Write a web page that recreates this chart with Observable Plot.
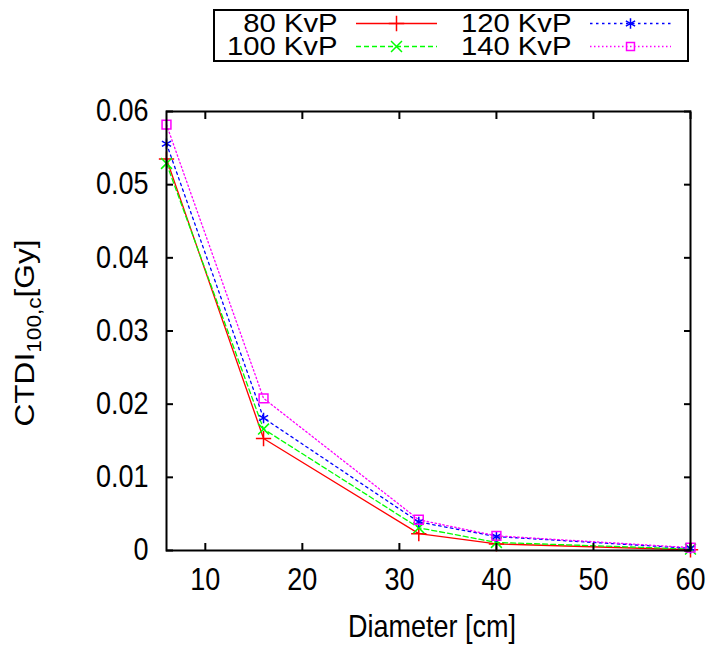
<!DOCTYPE html>
<html>
<head>
<meta charset="utf-8">
<script src="https://cdn.jsdelivr.net/npm/d3@7"></script>
<script src="https://cdn.jsdelivr.net/npm/@observablehq/plot@0.6"></script>
<style>
  html, body { margin: 0; padding: 0; background: #fff; }
  #wrap { position: relative; width: 713px; height: 646px; font-family: "Liberation Sans", Arial, sans-serif; color: #000; }
  #legend { position: absolute; left: 213px; top: 9px; width: 472px; height: 49px; border: 2px solid #000; background: #fff; }
  .lab { position: absolute; font-size: 25px; line-height: 21px; white-space: nowrap; transform: scaleX(1.17); transform-origin: right center; }
  .sw { position: absolute; }
  #ylab { position: absolute; left: 25px; top: 333px; transform: translate(-50%, -50%) rotate(-90deg) scale(1.13, 1); font-size: 28px; line-height: 28px; white-space: nowrap; }
  #ylab sub { font-size: 20px; vertical-align: -7px; line-height: 0; }
  #xlab { position: absolute; left: 432px; top: 627px; transform: translate(-50%, -50%) scale(1, 1.13); font-size: 27px; line-height: 27px; white-space: nowrap; }
</style>
</head>
<body>
<div id="wrap">
  <div id="chart"></div>
  <div id="legend"></div>
  <div id="ylab">CTDI<sub>100,c</sub>[Gy]</div>
  <div id="xlab">Diameter [cm]</div>
</div>
<script>
// ---- data ----
const diameters = [6, 16, 32, 40, 60];
const kvp80  = [0.0535, 0.0153, 0.0023, 0.0009, 0.0001];
const kvp100 = [0.0529, 0.0166, 0.0031, 0.0011, 0.0002];
const kvp120 = [0.0556, 0.0181, 0.0039, 0.0019, 0.0003];
const kvp140 = [0.0582, 0.0208, 0.0042, 0.0020, 0.0004];
const seriesNames = ["80 KvP", "100 KvP", "120 KvP", "140 KvP"];
const xTicks = [10, 20, 30, 40, 50, 60];
const yTicks = [0, 0.01, 0.02, 0.03, 0.04, 0.05, 0.06];

const seriesValues = [kvp80, kvp100, kvp120, kvp140];
const styles = [
  {color: "#ff0000", dash: null, symbol: "plus"},
  {color: "#00ff00", dash: "5,3", symbol: "times"},
  {color: "#0000ff", dash: "2.5,3.5", symbol: "asterisk"},
  {color: "#ff00ff", dash: "1.5,2.5", symbol: "square"}
];

const rows = [];
seriesNames.forEach((name, i) => {
  diameters.forEach((d, j) => rows.push({series: name, idx: i, x: d, y: seriesValues[i][j]}));
});

const marks = [];
seriesNames.forEach((name, i) => {
  const data = rows.filter(r => r.idx === i);
  marks.push(Plot.line(data, {x: "x", y: "y", stroke: styles[i].color, strokeWidth: 1.3, strokeDasharray: styles[i].dash}));
});
seriesNames.forEach((name, i) => {
  const data = rows.filter(r => r.idx === i);
  marks.push(Plot.dot(data, {x: "x", y: "y", stroke: styles[i].color, fill: "none", symbol: styles[i].symbol, r: 5, strokeWidth: 1.5}));
});

const plot = Plot.plot({
  width: 713,
  height: 646,
  marginLeft: 166,
  marginRight: 23,
  marginTop: 111,
  marginBottom: 96,
  style: {fontSize: "27px", fontFamily: "'Liberation Sans', Arial, sans-serif", color: "#000", background: "#fff"},
  x: {domain: [6, 60]},
  y: {domain: [0, 0.06]},
  marks: [
    ...marks,
    Plot.axisX({anchor: "bottom", ticks: xTicks, tickSize: -7, tickPadding: 25, strokeWidth: 2, label: null}),
    Plot.axisX({anchor: "top", ticks: xTicks, tickSize: -7, strokeWidth: 2, tickFormat: () => "", label: null}),
    Plot.axisY({anchor: "left", ticks: yTicks, tickSize: -7, tickPadding: 25, strokeWidth: 2, tickFormat: d => d === 0 ? "0" : d.toFixed(2), label: null}),
    Plot.axisY({anchor: "right", ticks: yTicks, tickSize: -7, strokeWidth: 2, tickFormat: () => "", label: null}),
    Plot.frame({stroke: "#000", strokeWidth: 2})
  ]
});
document.getElementById("chart").appendChild(plot);

// stretch tick labels vertically to match the reference's tall glyphs
plot.querySelectorAll("g[aria-label$='tick label'] text").forEach(t => {
  const tr = t.getAttribute("transform");
  if (tr) {
    t.setAttribute("transform", tr + " scale(1,1.13)");
  } else {
    const x = +t.getAttribute("x") || 0, y = +t.getAttribute("y") || 0;
    t.setAttribute("transform", `translate(${x},${y}) scale(1,1.13) translate(${-x},${-y})`);
  }
});

// ---- legend ----
const legend = document.getElementById("legend");
const colText = [123, 357];   // right edge of labels within legend box
const colSw = [141, 375];
const rowY = [2, 25];
const symMap = {plus: d3.symbolPlus, times: d3.symbolTimes, asterisk: d3.symbolAsterisk, square: d3.symbolSquare2};
seriesNames.forEach((name, i) => {
  const col = i < 2 ? 0 : 1, row = i % 2;
  const lab = document.createElement("div");
  lab.className = "lab";
  lab.style.right = (472 - colText[col]) + "px";
  lab.style.top = rowY[row] + "px";
  lab.textContent = name;
  legend.appendChild(lab);
  const w = 81, h = 21;
  const svg = d3.create("svg").attr("class", "sw").attr("width", w).attr("height", h)
    .style("left", colSw[col] + "px").style("top", rowY[row] + "px");
  svg.append("line").attr("x1", 0).attr("x2", w).attr("y1", h / 2).attr("y2", h / 2)
    .attr("stroke", styles[i].color).attr("stroke-width", 1.3)
    .attr("stroke-dasharray", styles[i].dash);
  svg.append("path").attr("transform", `translate(${w / 2},${h / 2})`)
    .attr("d", d3.symbol(symMap[styles[i].symbol], 80)())
    .attr("fill", "none").attr("stroke", styles[i].color).attr("stroke-width", 1.5);
  legend.appendChild(svg.node());
});
</script>
</body>
</html>
